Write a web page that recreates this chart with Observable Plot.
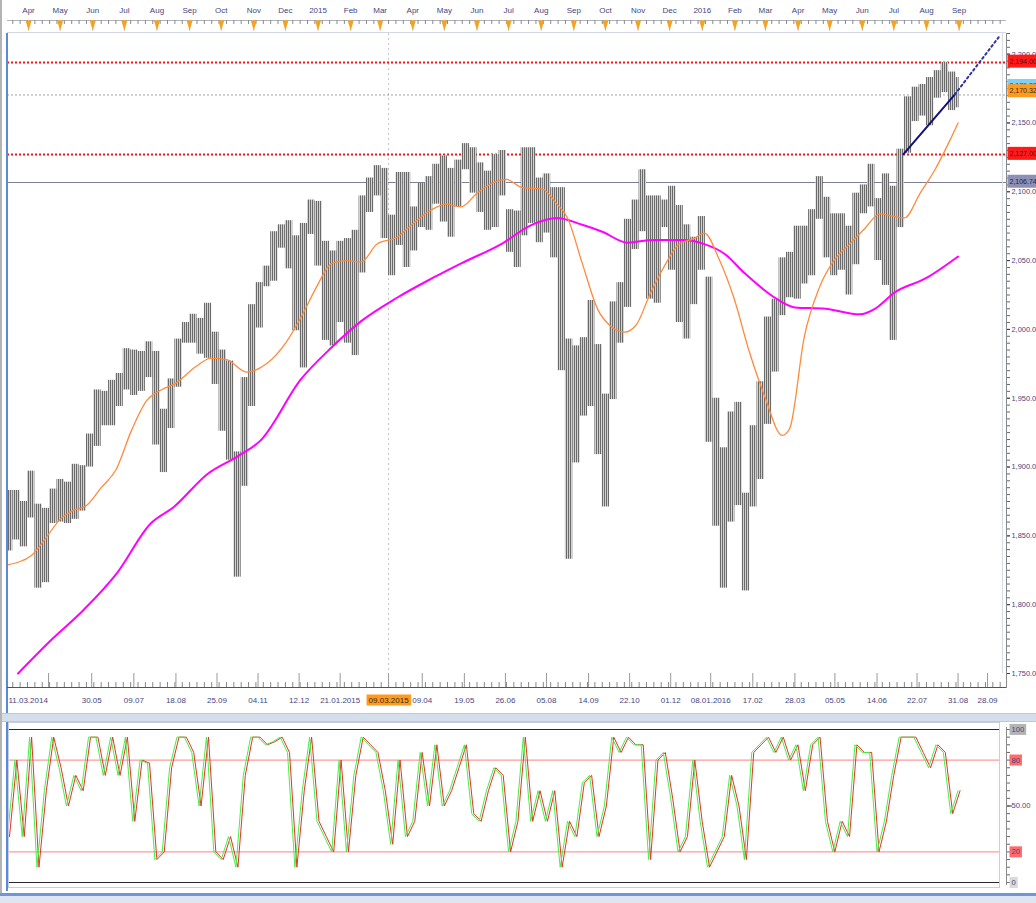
<!DOCTYPE html>
<html><head><meta charset="utf-8">
<script src="https://cdn.jsdelivr.net/npm/d3@7"></script>
<script src="https://cdn.jsdelivr.net/npm/@observablehq/plot@0.6"></script>
<style>
html,body{margin:0;padding:0;background:#fff}
body{width:1036px;height:903px;overflow:hidden;position:relative;font-family:"Liberation Sans",sans-serif}
.layer{position:absolute;left:0}
.deco{position:absolute}
</style></head><body>
<div id="main" class="layer" style="top:0"></div>
<div id="ruler" class="layer" style="top:0"></div>
<div id="osc" class="layer" style="top:722px"></div>
<div class="deco" style="left:0;top:0;width:2px;height:903px;background:#b4b4b4"></div>
<div class="deco" style="left:6px;top:33px;width:2px;height:858px;background:#5b8bd8"></div>
<div class="deco" style="left:7px;top:32px;width:999px;height:1px;background:#d2d8e2"></div>
<div class="deco" style="left:1002px;top:33px;width:1px;height:640px;background:#d8dce4"></div>
<div class="deco" style="left:7px;top:687px;width:999px;height:1px;background:#555"></div>
<div class="deco" style="left:2px;top:713px;width:1034px;height:7px;background:#d5deeb;border-top:1px solid #c0c8d6;border-bottom:1px solid #c0c8d6"></div>
<div class="deco" style="left:8px;top:722px;width:992px;height:166px;border:1px solid #c9ceda;box-sizing:border-box"></div>
<div class="deco" style="left:0;top:893px;width:1036px;height:10px;background:#dfe6f1;border-top:3px solid #6f97d6"></div>
<script>
// ---------- DATA ----------
const firstWeek = "2014-03-10";           // Monday of first weekly bar
const lastWeekEnd = "2016-09-05";         // exclusive
const weeklyHigh = [
 1883,1883,1875,1897,1873,1870,1884,1891,1889,1902,1901,1924,1956,1955,1963,1968,1986,1985,1984,1991,1984,1942,1964,1993,2005,2011,2008,2019,1998,1985,1977,1911,1965,2018,2034,2046,2071,2076,2079,2068,2077,2094,2093,
 2064,2057,2064,2066,2072,2097,2110,2119,2117,2083,2114,2114,2089,2106,2111,2120,2126,2117,2123,2135,2132,2121,2115,2127,2130,2087,2086,2132,2132,2110,2113,2103,2103,1993,1988,1994,2021,1989,1953,2020,2034,2080,2094,2116,2097,2097,2094,2104,2090,2076,2067,2082,
 2038,1950,1914,1940,1947,1881,1930,1962,2009,2022,2052,2056,2075,2075,2087,2111,2096,2084,2084,2075,2099,2105,2120,2095,2113,2104,2131,2169,2176,2178,2183,2188,2194,2187,2183];
const weeklyLow = [
 1839,1847,1842,1863,1812,1816,1859,1860,1859,1862,1868,1900,1915,1930,1930,1944,1956,1952,1955,1965,1916,1896,1928,1958,1990,1990,1982,1979,1960,1926,1905,1820,1886,1944,2001,2031,2035,2059,2044,1999,1972,2069,2046,
 1992,1988,2005,1990,1981,2041,2085,2097,2066,2039,2061,2045,2057,2074,2072,2091,2078,2067,2089,2116,2099,2085,2072,2074,2097,2056,2045,2068,2077,2063,2070,2052,1970,1833,1903,1937,1944,1909,1871,1949,1990,2016,2058,2071,2022,2019,2074,2043,2005,1993,2018,2043,
 1918,1857,1812,1860,1872,1810,1871,1891,1931,1969,2010,2023,2022,2033,2039,2080,2052,2039,2043,2025,2047,2084,2089,2050,2032,1992,2074,2128,2151,2155,2148,2168,2172,2159,2161];

const ma50Dates = ["2014-03-12","2014-04-04","2014-04-17","2014-05-01","2014-05-12","2014-05-26","2014-06-09","2014-06-23","2014-07-08","2014-07-22","2014-08-05","2014-08-19","2014-09-07","2014-09-21","2014-10-06","2014-10-25","2014-11-13","2014-12-02","2014-12-16","2014-12-30","2015-01-14","2015-01-28","2015-02-11","2015-02-26","2015-03-17","2015-03-31","2015-04-19","2015-05-03","2015-05-17","2015-06-01","2015-06-15","2015-06-29","2015-07-14","2015-08-02","2015-08-16","2015-08-26","2015-09-09","2015-09-24","2015-10-05","2015-10-19","2015-10-30","2015-11-12","2015-11-26","2015-12-10","2015-12-24","2016-01-03","2016-01-17","2016-01-31","2016-02-15","2016-02-29","2016-03-17","2016-03-24","2016-04-07","2016-04-21","2016-05-06","2016-05-20","2016-06-03","2016-06-18","2016-07-02","2016-07-11","2016-07-26","2016-08-09","2016-08-23","2016-08-31"];
const ma50Values = [1829,1836,1848,1862,1868,1872,1885,1898,1927,1948,1956,1961,1973,1979,1978,1969,1975,1991,2009,2030,2048,2050,2049,2062,2067,2076,2087,2091,2089,2099,2106,2109,2103,2102,2091,2081,2048,2014,2003,1998,2003,2025,2046,2062,2066,2070,2051,2023,1983,1952,1923,1928,1995,2030,2051,2062,2073,2084,2082,2081,2099,2116,2137,2150];

const ma200Dates = ["2014-03-22","2014-04-22","2014-05-23","2014-06-24","2014-07-26","2014-08-17","2014-09-18","2014-10-17","2014-11-07","2014-12-16","2015-01-14","2015-02-11","2015-03-17","2015-04-19","2015-05-17","2015-06-24","2015-07-23","2015-08-16","2015-09-09","2015-09-28","2015-10-22","2015-11-15","2015-12-14","2016-01-03","2016-01-22","2016-02-10","2016-03-10","2016-03-29","2016-04-27","2016-05-30","2016-06-13","2016-07-02","2016-07-31","2016-08-31"];
const ma200Values = [1750,1774,1796,1823,1859,1871,1895,1908,1919,1964,1987,2006,2023,2037,2048,2062,2076,2081,2076,2071,2063,2065,2065,2062,2055,2041,2023,2016,2015,2011,2015,2027,2037,2053];

const trendDates = ["2016-07-10","2016-08-28","2016-10-10"];
const trendValues = [2127.2, 2170.8, 2213.7];

const redLevels = [2194.00, 2127.00];
const dottedLevel = [2170.32];
const solidLevel = [2106.74];
const crossDate = "2015-03-09";

const priceBoxValues = [2194.00, 2176.33, 2127.00, 2106.74];
const priceBoxLabels = ["2,194.00","2,176.33","2,127.00","2,106.74"];
const priceBoxFill = ["#ff1a1a","#7fd0f5","#ff1a1a","#8b90b4"];
const priceBoxText = ["#5a1010","#1a4a70","#5a1010","#1c1f4a"];
const lastPrice = [2170.32];
const lastPriceLabel = "2,170.32";
const lastPriceFill = "#ff9a1f";

const priceTicks = [1750,1800,1850,1900,1950,2000,2050,2100,2150,2200];
const monthStarts = ["2014-04-01","2014-05-01","2014-06-01","2014-07-01","2014-08-01","2014-09-01","2014-10-01","2014-11-01","2014-12-01","2015-01-01","2015-02-01","2015-03-01","2015-04-01","2015-05-01","2015-06-01","2015-07-01","2015-08-01","2015-09-01","2015-10-01","2015-11-01","2015-12-01","2016-01-01","2016-02-01","2016-03-01","2016-04-01","2016-05-01","2016-06-01","2016-07-01","2016-08-01","2016-09-01"];
const monthLabels = ["Apr","May","Jun","Jul","Aug","Sep","Oct","Nov","Dec","2015","Feb","Mar","Apr","May","Jun","Jul","Aug","Sep","Oct","Nov","Dec","2016","Feb","Mar","Apr","May","Jun","Jul","Aug","Sep"];
const dateTickDates = ["2014-03-11","2014-04-20","2014-05-31","2014-07-10","2014-08-19","2014-09-27","2014-11-05","2014-12-14","2015-01-22","2015-03-09","2015-04-10","2015-05-20","2015-06-28","2015-08-06","2015-09-15","2015-10-24","2015-12-02","2016-01-09","2016-02-18","2016-03-29","2016-05-06","2016-06-15","2016-07-23","2016-08-31","2016-09-28"];
const dateTickLabels = ["11.03.2014","","30.05","09.07","18.08","25.09","04.11","12.12","21.01.2015","09.03.2015","09.04","19.05","26.06","05.08","14.09","22.10","01.12","08.01.2016","17.02","28.03","05.05","14.06","22.07","31.08","28.09"];

// stochastic (weekly readings)
const stochK = [
 30,80,30,95,10,60,95,75,50,70,60,95,95,70,95,70,95,40,80,78,15,20,75,95,95,85,50,95,20,15,30,10,70,95,95,90,92,95,85,10,60,95,40,
 30,20,80,20,70,95,90,85,60,25,80,30,40,85,50,90,50,60,75,90,45,40,60,75,70,20,40,95,40,60,40,60,10,40,30,65,70,30,50,95,85,95,90,90,15,80,85,55,20,30,80,40,
 10,20,30,70,50,15,85,90,95,85,95,80,90,60,90,95,40,20,40,30,90,85,85,20,40,70,95,95,95,85,75,90,85,45,60];
const oscLevels = [20, 80];
const oscBounds = [0, 100];
const oscBoxValues = [100, 80, 50, 20, 0];
const oscBoxLabels = ["100","80","50.00","20","0"];
const oscBoxFill = ["#b4b4b4","#ff6b6b",null,"#ff6b6b","#d9d9d9"];

// ---------- BUILD ----------
const P = d => new Date(d + "T00:00:00Z");
const weeks = d3.utcMonday.range(P(firstWeek), P(lastWeekEnd));
const bars = weeks.map((w, i) => ({x1: d3.utcDay.offset(w, i === 0 ? 1 : 0), x2: d3.utcDay.offset(w, i === weeks.length - 1 ? 3 : 7), x: d3.utcDay.offset(w, 2), high: weeklyHigh[i], low: weeklyLow[i], k: stochK[i]}));
const ma50 = ma50Dates.map((d, i) => ({x: P(d), y: ma50Values[i]}));
const ma200 = ma200Dates.map((d, i) => ({x: P(d), y: ma200Values[i]}));
const trend = trendDates.map((d, i) => ({x: P(d), y: trendValues[i]}));
const xDomain = [P("2014-03-12"), P("2016-10-16")];
const weekTicks = d3.utcMonday.range(xDomain[0], xDomain[1]);
const FONT = "Liberation Sans, Arial, sans-serif";
const TXT = "#46467e";
const priceBoxes = priceBoxValues.map((v, i) => ({v, label: priceBoxLabels[i], fill: priceBoxFill[i], fg: priceBoxText[i]}));
const dateTicks = dateTickDates.map((d, i) => ({x: P(d), label: dateTickLabels[i]}));

const common = {width: 1036, marginLeft: 7, marginRight: 30, x: {type: "utc", domain: xDomain, axis: null, label: null}};

const mainPlot = Plot.plot({
  ...common, height: 715, marginTop: 33, marginBottom: 42,
  y: {domain: [1750, 2215], axis: null, label: null},
  style: {background: "transparent", fontFamily: FONT, fontSize: "7.4px", color: TXT},
  marks: [
    Plot.ruleX([P(crossDate)], {stroke: "#c4c4c4", strokeDasharray: "2,3"}),
    Plot.ruleY(solidLevel, {stroke: "#7c7f96", strokeWidth: 1}),
    Plot.ruleY(dottedLevel, {stroke: "#a0a0a0", strokeDasharray: "2,2"}),
    Plot.ruleY(redLevels, {stroke: "#ff1010", strokeWidth: 2, strokeDasharray: "2,2"}),
    Plot.rectY(bars, {x1: "x1", x2: "x2", y1: "low", y2: "high", fill: "#888"}),
    Plot.line(ma200, {x: "x", y: "y", stroke: "#ff00ff", strokeWidth: 2, curve: "monotone-x"}),
    Plot.line(ma50, {x: "x", y: "y", stroke: "#ff8a3d", strokeWidth: 1.3, curve: "monotone-x"}),
    Plot.line(trend.slice(0, 2), {x: "x", y: "y", stroke: "#10107e", strokeWidth: 2}),
    Plot.line(trend.slice(1), {x: "x", y: "y", stroke: "#3030a0", strokeWidth: 2, strokeDasharray: "2,3"}),
    Plot.ruleX([xDomain[1]], {stroke: "#8a8a8a", insetBottom: -15}),
    Plot.axisY({anchor: "right", ticks: d3.range(1750, 2216, 5), tickSize: 3, text: null, stroke: "#666", label: null}),
    Plot.axisY({anchor: "right", ticks: priceTicks, tickSize: 3, tickPadding: 2, tickFormat: d => d3.format(",.1f")(d), fill: TXT, stroke: "#444", label: null}),
    Plot.axisX({anchor: "bottom", ticks: weekTicks, tickSize: 5, text: null, stroke: "#888", dy: 9, label: null}),
    Plot.axisX({anchor: "bottom", ticks: dateTicks.map(d => d.x), tickSize: 14, text: null, stroke: "#9a9a9a", label: null}),
    Plot.text(dateTicks.slice(0, 1), {x: "x", text: "label", frameAnchor: "bottom", dy: 29, dx: 2, textAnchor: "start", fill: TXT, fontSize: 8}),
    Plot.text(dateTicks.slice(1).filter(d => d.label !== "09.03.2015"), {x: "x", text: "label", frameAnchor: "bottom", dy: 29, fill: TXT, fontSize: 8}),
    Plot.text(dateTicks.filter(d => d.label === "09.03.2015"), {x: "x", text: "label", frameAnchor: "bottom", dy: 29, fill: "#3a2a10", fontSize: 8}),
    Plot.text(priceBoxes, {x: () => xDomain[1], y: "v", text: "label", dx: 3, dy: -1, textAnchor: "start", fill: "fg", fontSize: 7}),
    Plot.text(lastPrice, {x: () => xDomain[1], y: d => d, text: () => lastPriceLabel, dx: 3, dy: -4, textAnchor: "start", fill: "#3a2a10", fontSize: 7})
  ]
});
document.getElementById("main").appendChild(mainPlot);

// hatch texture for the price bars (dense daily bars look)
const defs = d3.select(mainPlot).insert("defs", ":first-child");
const pat = defs.append("pattern").attr("id", "hatch").attr("patternUnits", "userSpaceOnUse").attr("width", 2).attr("height", 4);
pat.append("rect").attr("x", 0).attr("y", 0).attr("width", 1).attr("height", 4).attr("fill", "#6a6a6a");
pat.append("rect").attr("x", 1).attr("y", 0).attr("width", 1).attr("height", 4).attr("fill", "#d2d2d2");
d3.select(mainPlot).selectAll('g[aria-label="rect"]').attr("fill", "url(#hatch)").selectAll("rect").attr("fill", null);

const months = monthStarts.map((d, i) => ({x: P(d), label: monthLabels[i]}));
const downTri = {draw(ctx, size) { const s = Math.sqrt(size) / 2; ctx.moveTo(-s * 0.75, -s * 1.25); ctx.lineTo(s * 0.75, -s * 1.25); ctx.lineTo(0, s * 1.25); ctx.closePath(); }};
const rulerPlot = Plot.plot({
  ...common, height: 33, marginTop: 0, marginBottom: 0,
  y: {domain: [0, 33], range: [0, 33], axis: null},
  style: {background: "transparent", fontFamily: FONT, fontSize: "8px", color: TXT},
  marks: [
    Plot.ruleY([20], {stroke: "#b0b4c0"}),
    Plot.ruleX(weekTicks, {x: d => d, y1: 20, y2: 24, stroke: "#8a8a8a"}),
    Plot.ruleX(months, {x: "x", y1: 20, y2: 31, stroke: "#c8c8c8"}),
    Plot.dot(months, {x: "x", y: 25, symbol: downTri, r: 4.6, fill: "#f7a21c", stroke: "none"}),
    Plot.text(months, {x: "x", y: 10, text: "label", fill: TXT})
  ]
});
document.getElementById("ruler").appendChild(rulerPlot);

const oscBoxes = oscBoxValues.map((v, i) => ({v, label: oscBoxLabels[i], fill: oscBoxFill[i]}));
const oscPlot = Plot.plot({
  ...common, height: 168, marginTop: 7, marginBottom: 8,
  y: {domain: [0, 100], axis: null, label: null},
  style: {background: "transparent", fontFamily: FONT, fontSize: "7.6px", color: TXT},
  marks: [
    Plot.ruleY(oscBounds, {stroke: "#2a2a2a", x1: xDomain[0], x2: P("2016-10-10")}),
    Plot.ruleY(oscLevels, {stroke: "#ff8080", x1: xDomain[0], x2: P("2016-10-10")}),
    Plot.line(bars, {x: "x", y: "k", stroke: "#e8302a", strokeWidth: 1, dx: 2}),
    Plot.line(bars, {x: "x", y: "k", stroke: "#45f045", strokeWidth: 1}),
    Plot.ruleX([xDomain[1]], {stroke: "#8a8a8a", insetTop: -2, insetBottom: -3}),
    Plot.axisY({anchor: "right", ticks: d3.range(0, 101, 5), tickSize: 3, text: null, stroke: "#666", label: null}),
    Plot.axisY({anchor: "right", ticks: [50], tickSize: 5, text: null, stroke: "#444", label: null}),
    Plot.text(oscBoxes, {x: () => xDomain[1], y: "v", text: "label", dx: 5, textAnchor: "start", fill: TXT})
  ]
});
document.getElementById("osc").appendChild(oscPlot);

// put coloured label boxes behind the value texts that Plot positioned
function boxify(svg, markIndex, fills, toEdge, padY) {
  const groups = d3.select(svg).selectAll('g[aria-label="text"]').nodes();
  const g = groups[markIndex]; if (!g) return;
  d3.select(g).selectAll("text").each(function(_, i) {
    const c = fills[i]; if (!c) return;
    const bb = this.getBBox();
    const r = document.createElementNS("http://www.w3.org/2000/svg", "rect");
    r.setAttribute("x", bb.x - 2); r.setAttribute("y", bb.y - padY);
    r.setAttribute("width", toEdge ? 60 : bb.width + 4);
    r.setAttribute("height", bb.height + 2 * padY);
    r.setAttribute("fill", c);
    const t = this.getAttribute("transform"); if (t) r.setAttribute("transform", t);
    this.parentNode.insertBefore(r, this);
  });
}
boxify(mainPlot, 2, ["#ff9a1f"], false, 1);
boxify(mainPlot, 3, priceBoxFill, true, 3);
boxify(mainPlot, 4, [lastPriceFill], true, 3);
boxify(oscPlot, 0, oscBoxFill, false, 1);
</script></body></html>
